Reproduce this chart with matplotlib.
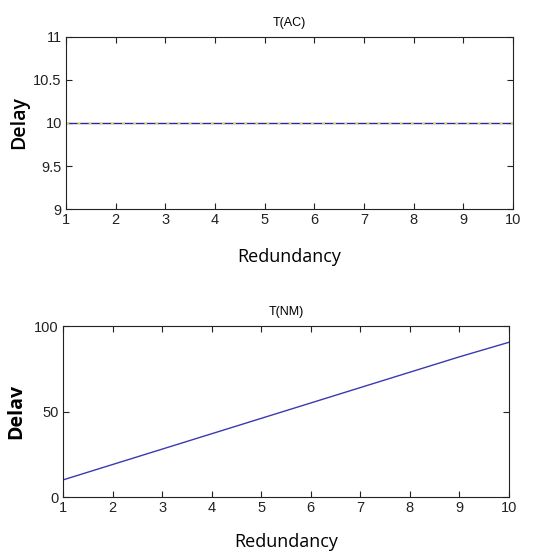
import matplotlib
matplotlib.use("Agg")
import matplotlib.pyplot as plt

# data
redundancy = [1, 2, 3, 4, 5, 6, 7, 8, 9, 10]
delay_ac = [10, 10, 10, 10, 10, 10, 10, 10, 10, 10]
delay_nm = [10, 19, 28, 37, 46, 55, 64, 73, 82, 90.5]

x_ticks = [1, 2, 3, 4, 5, 6, 7, 8, 9, 10]
y_ticks_ac = [9, 9.5, 10, 10.5, 11]
y_ticks_nm = [0, 50, 100]

plt.rcParams['font.family'] = ['Liberation Sans', 'DejaVu Sans']

fig = plt.figure(figsize=(5.34, 5.55), dpi=100)

ax1 = fig.add_axes([0.1236, 0.6234, 0.837, 0.31])
ax2 = fig.add_axes([0.118, 0.1045, 0.835, 0.308])


def estilo(ax):
    ax.tick_params(direction='in', top=True, right=True, length=4, width=0.8,
                   labelsize=10.5, colors='#222222', pad=3)
    for s in ax.spines.values():
        s.set_linewidth(0.8)
        s.set_color('#222222')
    ax.set_xlim(1, 10)
    ax.set_xticks(x_ticks)


# grafico de cima: varias linhas sobrepostas em 10
ax1.plot(redundancy, delay_ac, color='#2a2a9a', lw=1.0)
ax1.plot(redundancy, delay_ac, color='#e8d840', lw=1.0, dashes=(2, 6))
ax1.set_ylim(9, 11)
ax1.set_yticks(y_ticks_ac)
ax1.set_yticklabels(['9', '9.5', '10', '10.5', '11'])
estilo(ax1)
ax1.set_title('T(AC)', fontsize=9, pad=8)
ax1.set_xlabel('Redundancy', fontsize=13, family=['Open Sans', 'DejaVu Sans'], labelpad=15)
ax1.set_ylabel('Delay', fontsize=14, fontweight='semibold', family=['Open Sans', 'DejaVu Sans'], labelpad=3)

# grafico de baixo
ax2.plot(redundancy, delay_nm, color='#3a3ab0', lw=1.0)
ax2.set_ylim(0, 100)
ax2.set_yticks(y_ticks_nm)
estilo(ax2)
ax2.set_title('T(NM)', fontsize=9, pad=8)
ax2.set_xlabel('Redundancy', fontsize=13, family=['Open Sans', 'DejaVu Sans'], labelpad=13)
ax2.set_ylabel('Delav', fontsize=14, fontweight='bold', family=['Open Sans', 'DejaVu Sans'], labelpad=6)

fig.savefig('out.png', dpi=100)
